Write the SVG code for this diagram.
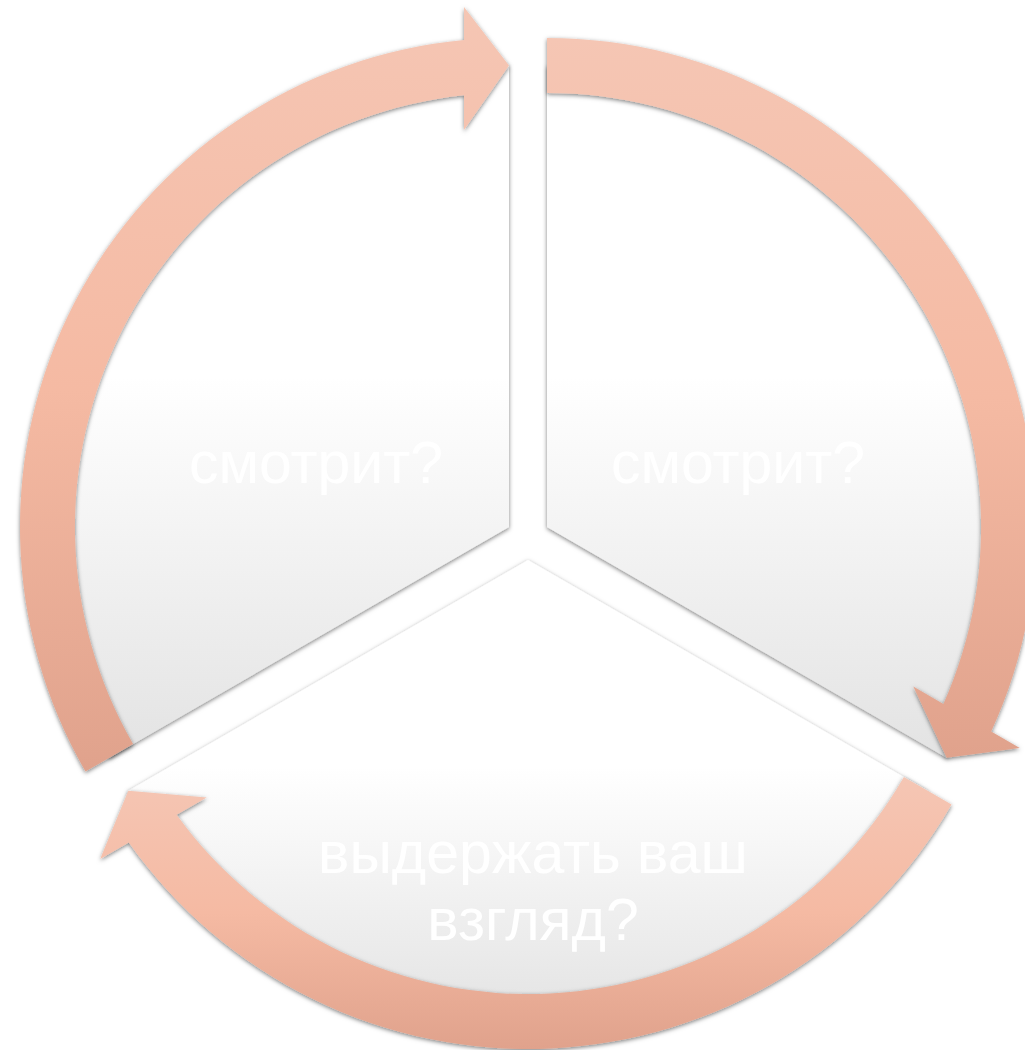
<svg xmlns="http://www.w3.org/2000/svg" width="1025" height="1050" viewBox="0 0 1025 1050">
  <defs>
    <linearGradient id="gSector" x1="0" y1="0" x2="0" y2="1">
      <stop offset="0" stop-color="#FFFFFF"/>
      <stop offset="0.45" stop-color="#FFFFFF"/>
      <stop offset="1" stop-color="#E3E3E3"/>
    </linearGradient>
    <linearGradient id="gArrow" x1="0" y1="0" x2="0" y2="1">
      <stop offset="0" stop-color="#F5C6B4"/>
      <stop offset="0.5" stop-color="#F5BAA3"/>
      <stop offset="1" stop-color="#E0A28C"/>
    </linearGradient>
    <filter id="shadow" x="-10%" y="-10%" width="120%" height="120%">
      <feDropShadow dx="0" dy="1.5" stdDeviation="2.2" flood-color="#000" flood-opacity="0.5"/>
    </filter>
  </defs>
  <style>
    .sector { fill: url(#gSector); filter: url(#shadow); }
    .arrow { fill: url(#gArrow); filter: url(#shadow); }
    .label { font-family: "Liberation Sans", Arial, sans-serif; font-size: 59px; fill: #FFFFFF; text-anchor: middle; }
  </style>

  <g id="node-left">
    <path class="sector" d="M509 527 L509 65.5 A461.5 461.5 0 0 0 109.3 757.75 Z"/>
    <text class="label" x="316" y="483">смотрит?</text>
  </g>
  <g id="node-right">
    <path class="sector" d="M547 527 L547 65.5 A461.5 461.5 0 0 1 946.7 757.75 Z"/>
    <text class="label" x="738" y="483">смотрит?</text>
  </g>
  <g id="node-bottom">
    <path class="sector" d="M528 560 L927.7 790.75 A461.5 461.5 0 0 1 128.3 790.75 Z"/>
    <text class="label" x="533" y="873">выдержать ваш</text>
    <text class="label" x="533" y="940">взгляд?</text>
  </g>

  <g id="connectors">
    <path class="arrow" d="M85.5 771.5 A489 489 0 0 1 464 40.1 L464 7 L509 65.5 L464 130 L464 95.3 A434 434 0 0 0 133.1 744 Z"/>
    <path class="arrow" d="M547 38 A489 489 0 0 1 991.2 731.5 L1019.8 748 L946.7 757.75 L913.3 686.5 L943.4 703.9 A434 434 0 0 0 547 93 Z"/>
    <path class="arrow" d="M951.5 804.5 A489 489 0 0 1 128.8 842.4 L100.2 859 L128.3 790.75 L206.7 797.5 L176.65 814.8 A434 434 0 0 0 903.9 777 Z"/>
  </g>
</svg>
